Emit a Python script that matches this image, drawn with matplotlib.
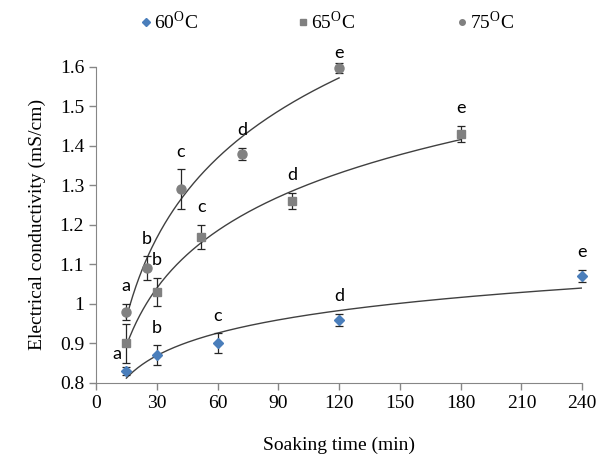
import numpy as np
import matplotlib
matplotlib.use("Agg")
import matplotlib.pyplot as plt
from matplotlib.lines import Line2D

plt.rcParams['font.family'] = ['Liberation Serif', 'DejaVu Serif']
plt.rcParams['mathtext.fontset'] = 'custom'
plt.rcParams['mathtext.rm'] = 'Liberation Serif'

# data
t60 = [15, 30, 60, 120, 240]
ec60 = [0.83, 0.87, 0.90, 0.96, 1.07]
err60 = [0.01, 0.025, 0.025, 0.015, 0.015]
lab60 = ['', 'b', 'c', 'd', 'e']

t65 = [15, 30, 52, 97, 180]
ec65 = [0.90, 1.03, 1.17, 1.26, 1.43]
err65 = [0.05, 0.035, 0.03, 0.02, 0.02]
lab65 = ['', 'b', 'c', 'd', 'e']

t75 = [15, 25, 42, 72, 120]
ec75 = [0.98, 1.09, 1.29, 1.38, 1.597]
err75 = [0.02, 0.03, 0.05, 0.015, 0.012]
lab75 = ['a', 'b', 'c', 'd', 'e']

series = [
    ('60$^{\\mathrm{O}}$C', t60, ec60, err60, lab60, 'D', '#4a7ebb', 5),
    ('65$^{\\mathrm{O}}$C', t65, ec65, err65, lab65, 's', '#808080', 6),
    ('75$^{\\mathrm{O}}$C', t75, ec75, err75, lab75, 'o', '#808080', 6.5),
]

fig = plt.figure(figsize=(5.98, 4.63), dpi=100)
ax = fig.add_axes([0.1605, 0.173, 0.813, 0.683])

leg_x = [146, 303, 462]  # legend marker positions (px)
leg_y = 1 - 22 / 463

for i, (name, t, y, e, labs, mk, col, ms) in enumerate(series):
    t = np.array(t, float)
    y = np.array(y, float)
    # logarithmic trend line like Excel
    a, b = np.polyfit(np.log(t), y, 1)
    xs = np.linspace(t.min(), t.max(), 200)
    ax.plot(xs, a * np.log(xs) + b, color='#404040', lw=1, zorder=2)
    eb = ax.errorbar(t, y, yerr=e, fmt='none', ecolor='#262626', elinewidth=0.9,
                     capsize=3, capthick=0.9, zorder=3)
    for art in eb.lines[1] + eb.lines[2]:
        art.set_clip_on(False)
    ax.plot(t, y, mk, color=col, ms=ms, mec=col, zorder=4, clip_on=False)
    for xi, yi, ei, lb in zip(t, y, e, labs):
        if lb:
            ly = min(yi + ei + 0.045, 1.635)
            ax.text(xi, ly, lb, ha='center', va='center',
                    fontsize=13, family='Lato', clip_on=False)
    # legend drawn by hand
    fx = leg_x[i] / 598
    fig.add_artist(Line2D([fx], [leg_y], transform=fig.transFigure, ls='none',
                          marker=mk, color=col, ms=4))
    fig.text(fx + 8 / 598, leg_y, name, ha='left', va='center', fontsize=14)

# the lowest "a" sits left of the 60/65 points
ax.text(10.5, 0.872, 'a', ha='center', va='center', fontsize=13, family='Lato')

ax.set_xlim(0, 240)
ax.set_ylim(0.8, 1.6)
ax.set_xticks(range(0, 241, 30))
ax.set_yticks(np.arange(0.8, 1.61, 0.1))
ax.set_yticklabels(['0.8', '0.9', '1', '1.1', '1.2', '1.3', '1.4', '1.5', '1.6'])
ax.tick_params(labelsize=14, color='#868686', length=5, width=1)
for s in ['top', 'right']:
    ax.spines[s].set_visible(False)
for s in ['left', 'bottom']:
    ax.spines[s].set_color('#868686')

ax.set_xlabel('Soaking time (min)', fontsize=14, labelpad=18)
ax.set_ylabel('Electrical conductivity (mS/cm)', fontsize=14, labelpad=10)

fig.savefig('out.png', dpi=100)
